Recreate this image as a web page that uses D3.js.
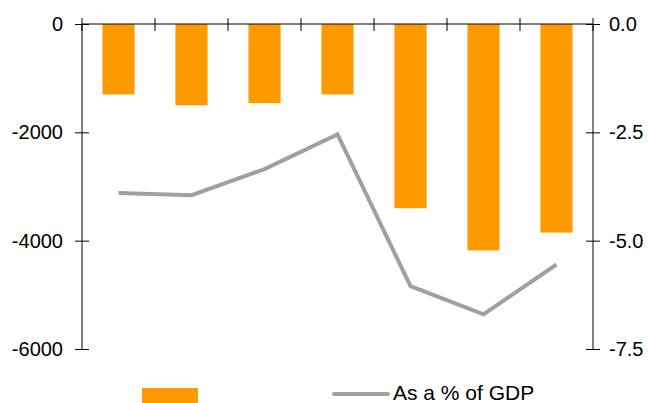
<!DOCTYPE html>
<html>
<head>
<meta charset="utf-8">
<script src="https://cdn.jsdelivr.net/npm/d3@7"></script>
<style>
  html, body { margin: 0; padding: 0; background: #fff; }
  svg { display: block; font-family: "Liberation Sans", Arial, sans-serif; }
</style>
</head>
<body>
<svg id="chart" width="649" height="403"></svg>
<script>
// Categories (unlabelled periods)
const categories = ["P1", "P2", "P3", "P4", "P5", "P6", "P7"];
// Balance, level (left axis)
const balance = [-1300, -1500, -1460, -1300, -3400, -4180, -3850];
// Balance as a % of GDP (right axis)
const balancePctGDP = [-3.9, -3.95, -3.35, -2.55, -6.05, -6.7, -5.55];
// Axis ticks
const leftTicks = [0, -2000, -4000, -6000];
const rightTicks = [0, -2.5, -5, -7.5];
const lineLegendLabel = "As a % of GDP";

const BAR = "#FF9900";
const LINE = "#A0A0A0";

const svg = d3.select("#chart");
const plotLeft = 82, plotRight = 593, plotTop = 24, plotBottom = 349;

const x = d3.scaleBand().domain(categories).range([plotLeft, plotRight]).padding(0);
const yL = d3.scaleLinear().domain([0, -6000]).range([plotTop, plotBottom]);
const yR = d3.scaleLinear().domain([0, -7.5]).range([plotTop, plotBottom]);

const barW = x.bandwidth() * 0.44;

// Bars hang down from zero
svg.append("g").selectAll("rect")
  .data(categories)
  .join("rect")
  .attr("x", (d) => x(d) + x.bandwidth() / 2 - barW / 2)
  .attr("y", yL(0))
  .attr("width", barW)
  .attr("height", (d, i) => yL(balance[i]) - yL(0))
  .attr("fill", BAR);

// Left axis (plain hyphen-minus labels)
const axL = svg.append("g").attr("transform", `translate(${plotLeft},0)`)
  .call(d3.axisLeft(yL).tickValues(leftTicks).tickSize(7).tickPadding(12)
    .tickFormat((d) => String(d)));
axL.selectAll(".tick line").clone().attr("x2", 7);

// Right axis
const axR = svg.append("g").attr("transform", `translate(${plotRight},0)`)
  .call(d3.axisRight(yR).tickValues(rightTicks).tickSize(7).tickPadding(9)
    .tickFormat((d) => d.toFixed(1)));
axR.selectAll(".tick line").clone().attr("x2", -7);

// Top category axis at zero, ticks on band edges
const edges = categories.map((c) => x(c)).concat([plotRight]);
const axT = svg.append("g");
axT.append("line").attr("x1", plotLeft).attr("x2", plotRight).attr("y1", plotTop).attr("y2", plotTop).attr("stroke", "#000");
axT.selectAll("line.edge").data(edges).join("line").attr("class", "edge")
  .attr("x1", (d) => d).attr("x2", (d) => d)
  .attr("y1", plotTop - 6).attr("y2", plotTop + 7)
  .attr("stroke", "#000");

[axL, axR].forEach((g) => {
  g.select(".domain").attr("stroke", "#000").attr("d", `M0,${plotTop}V${plotBottom}`);
  g.selectAll(".tick line").attr("stroke", "#000");
  g.selectAll(".tick text").attr("font-size", 20).attr("fill", "#000")
    .attr("font-family", "'Liberation Sans', Arial, sans-serif");
});

// Line on right axis
const line = d3.line()
  .x((d, i) => x(categories[i]) + x.bandwidth() / 2)
  .y((d) => yR(d));
svg.append("path").datum(balancePctGDP)
  .attr("d", line)
  .attr("fill", "none")
  .attr("stroke", LINE)
  .attr("stroke-width", 4)
  .attr("stroke-linejoin", "miter");

// Legend
const lg = svg.append("g");
lg.append("rect").attr("x", 142).attr("y", 388).attr("width", 56).attr("height", 18).attr("fill", BAR);
lg.append("line").attr("x1", 334).attr("x2", 388).attr("y1", 394).attr("y2", 394)
  .attr("stroke", LINE).attr("stroke-width", 4).attr("stroke-linecap", "round");
lg.append("text").attr("x", 393).attr("y", 400).attr("font-size", 21).attr("fill", "#000")
  .text(lineLegendLabel);
</script>
</body>
</html>
